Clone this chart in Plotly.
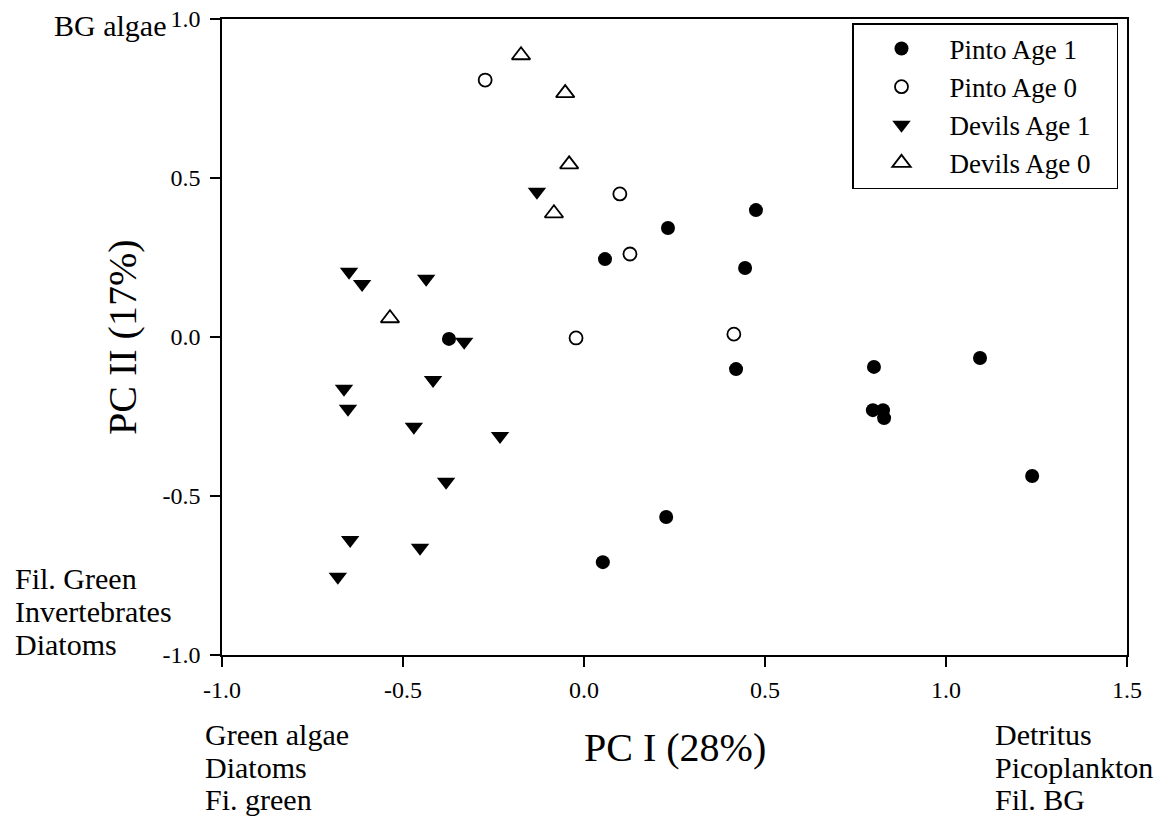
import plotly.graph_objects as go

# ---- data ----
pinto1_x = [0.058, 0.232, 0.475, 0.445, -0.373, 0.420, 0.801, 1.094, 0.798, 0.826, 0.829, 1.238, 0.227, 0.052]
pinto1_y = [0.245, 0.343, 0.399, 0.217, -0.006, -0.101, -0.094, -0.066, -0.230, -0.230, -0.255, -0.437, -0.566, -0.708]

pinto0_x = [-0.273, 0.099, 0.127, -0.022, 0.414]
pinto0_y = [0.808, 0.450, 0.261, -0.003, 0.009]

devils1_x = [-0.130, -0.649, -0.613, -0.436, -0.331, -0.417, -0.663, -0.652, -0.470, -0.232, -0.381, -0.646, -0.453, -0.680]
devils1_y = [0.457, 0.205, 0.167, 0.183, -0.015, -0.135, -0.163, -0.226, -0.282, -0.311, -0.455, -0.638, -0.663, -0.754]

devils0_x = [-0.174, -0.052, -0.041, -0.083, -0.536]
devils0_y = [0.886, 0.767, 0.543, 0.389, 0.059]

series_names = ["Pinto Age 1", "Pinto Age 0", "Devils Age 1", "Devils Age 0"]

x_ticks = [-1.0, -0.5, 0.0, 0.5, 1.0, 1.5]
y_ticks = [-1.0, -0.5, 0.0, 0.5, 1.0]
x_ticktext = ["-1.0", "-0.5", "0.0", "0.5", "1.0", "1.5"]
y_ticktext = ["-1.0", "-0.5", "0.0", "0.5", "1.0"]

FONT = "Liberation Serif, Times New Roman, serif"
W, H = 1165, 817
L, R, T, B = 222, 1127, 19, 655  # plot area in screen pixels


def px(x):
    return (x - L) / (R - L)


def py(y):
    return (B - y) / (B - T)


pad = "\u00a0\u00a0\u00a0"
fig = go.Figure()
fig.add_trace(go.Scatter(x=pinto1_x, y=pinto1_y, mode="markers", name=series_names[0] + pad,
                         marker=dict(symbol="circle", size=14, color="black",
                                     line=dict(color="black", width=0))))
fig.add_trace(go.Scatter(x=pinto0_x, y=pinto0_y, mode="markers", name=series_names[1] + pad,
                         marker=dict(symbol="circle-open", size=13, color="black",
                                     line=dict(color="black", width=1.8))))
fig.add_trace(go.Scatter(x=devils1_x, y=devils1_y, mode="markers", name=series_names[2] + pad,
                         marker=dict(symbol="triangle-down", size=16, color="black",
                                     line=dict(color="black", width=0))))
fig.add_trace(go.Scatter(x=devils0_x, y=devils0_y, mode="markers", name=series_names[3] + pad,
                         marker=dict(symbol="triangle-up-open", size=16, color="black",
                                     line=dict(color="black", width=1.8))))

axis_common = dict(showgrid=False, zeroline=False, showline=True, linecolor="black",
                   linewidth=1.5, mirror=True, ticks="outside", ticklen=10, tickwidth=1.5,
                   tickcolor="black", automargin=False, ticklabeloverflow="allow",
                   tickfont=dict(family=FONT, size=24, color="black"))

fig.update_xaxes(range=[-1.0, 1.5], tickvals=x_ticks, ticktext=x_ticktext,
                 ticklabelstandoff=2, **axis_common)
fig.update_yaxes(range=[-1.0, 1.0], tickvals=y_ticks, ticktext=y_ticktext,
                 ticklabelstandoff=5, **axis_common)

ann_font = dict(family=FONT, size=30, color="black")
title_font = dict(family=FONT, size=40, color="black")
annotations = [
    dict(text="PC I (28%)", x=px(675), y=py(747), xanchor="center", yanchor="middle",
         font=title_font),
    dict(text="PC II (17%)", x=px(122), y=py(337), xanchor="center", yanchor="middle",
         textangle=-90, font=title_font),
    dict(text="BG algae", x=px(168), y=py(25), xanchor="right", yanchor="middle", font=ann_font),
]
for i, t in enumerate(["Fil. Green", "Invertebrates", "Diatoms"]):
    annotations.append(dict(text=t, x=px(13), y=py(578 + 33 * i), xanchor="left",
                            yanchor="middle", font=ann_font))
for i, t in enumerate(["Green algae", "Diatoms", "Fi. green"]):
    annotations.append(dict(text=t, x=px(203), y=py(734 + 33 * i), xanchor="left",
                            yanchor="middle", font=ann_font))
for i, t in enumerate(["Detritus", "Picoplankton", "Fil. BG"]):
    annotations.append(dict(text=t, x=px(993), y=py(734 + 33 * i), xanchor="left",
                            yanchor="middle", font=ann_font))
for a in annotations:
    a.update(xref="paper", yref="paper", showarrow=False)

fig.update_layout(
    width=W, height=H,
    margin=dict(l=L, r=W - R, t=T, b=H - B, pad=0, autoexpand=False),
    paper_bgcolor="white", plot_bgcolor="white",
    font=dict(family=FONT, color="black"),
    showlegend=True,
    legend=dict(x=px(1118), y=py(23), xanchor="right", yanchor="top",
                bordercolor="black", borderwidth=1.5, bgcolor="white",
                font=dict(family=FONT, size=27, color="black"),
                itemwidth=86, tracegroupgap=0),
    annotations=annotations,
)

fig.write_html("out.html", config={"displayModeBar": False},
               post_script="document.body.style.margin='0';document.body.style.overflow='hidden';")
